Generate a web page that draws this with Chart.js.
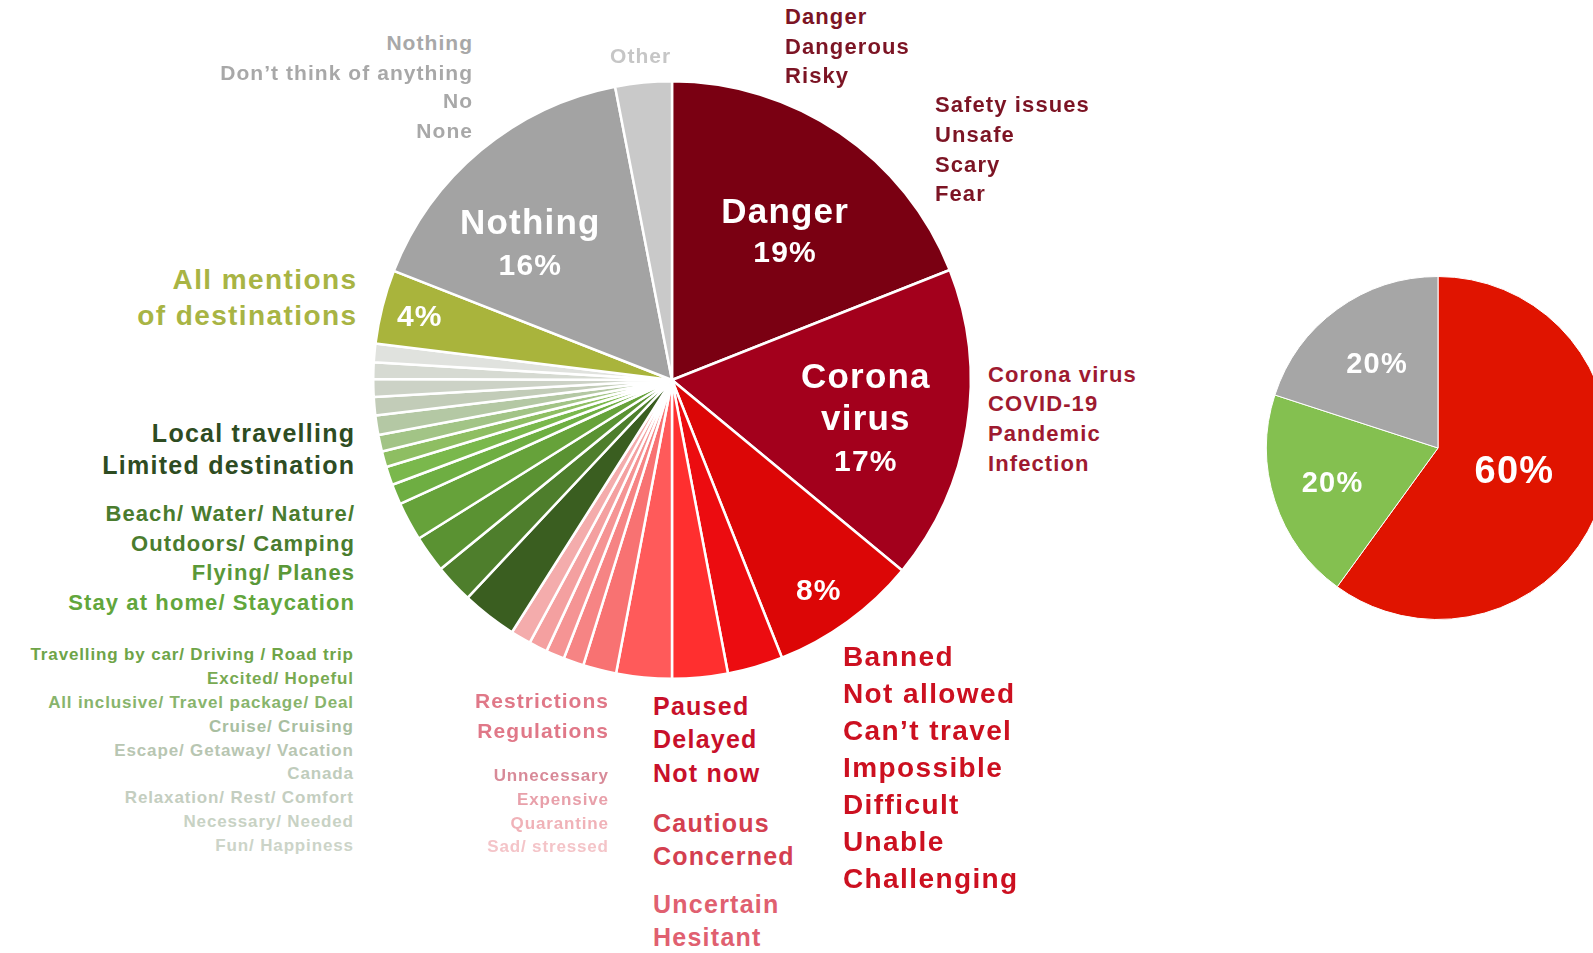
<!DOCTYPE html>
<html>
<head>
<meta charset="utf-8">
<script src="https://cdn.jsdelivr.net/npm/chart.js@4"></script>
<style>
  html, body { margin: 0; padding: 0; background: #fff; }
  body { width: 1593px; height: 953px; overflow: hidden; position: relative;
         font-family: "Liberation Sans", Arial, Helvetica, sans-serif; }
  .box { position: absolute; }
  .lbl { position: absolute; white-space: nowrap; font-weight: bold; letter-spacing: 0.05em; }
</style>
</head>
<body>
<div class="box" style="left:362px;top:70px;width:620px;height:620px"><canvas id="main"></canvas></div>
<div class="box" style="left:1266px;top:276px;width:344px;height:344px"><canvas id="side"></canvas></div>
<script>
// main pie, clockwise from 12 o'clock (percent of mentions)
const categories = [
  'Danger', 'Corona virus', 'Banned / Not allowed', 'Paused / Delayed', 'Cautious / Concerned',
  'Uncertain / Hesitant', 'Restrictions / Regulations', 'Unnecessary', 'Expensive', 'Quarantine',
  'Sad/ stressed', 'Local travelling', 'Beach/ Water/ Nature', 'Flying/ Planes', 'Stay at home',
  'Travelling by car', 'Excited/ Hopeful', 'All inclusive', 'Cruise', 'Escape/ Getaway',
  'Canada', 'Relaxation', 'Necessary/ Needed', 'Fun/ Happiness', 'All mentions of destinations',
  'Nothing', 'Other'
];
const shares = [
  19, 17, 8, 3, 3,
  3, 1.8, 1.1, 1, 1,
  1.1, 3, 2.1, 2, 2.1,
  1.1, 1, 0.85, 0.9, 1.05,
  1, 0.95, 0.9, 1, 4,
  16, 3.05
];
const sliceColors = [
  '#7a0012', '#a3001c', '#dc0606', '#ec0c10', '#ff2f2f',
  '#ff5a5a', '#f87272', '#f68484', '#f59494', '#f4a0a0',
  '#f4acac', '#3a5e20', '#4e7e2c', '#5a9232', '#66a23a',
  '#6eae42', '#7ab84c', '#8ebe62', '#a2c486', '#b4c8a4',
  '#c2ccb8', '#ccd2c6', '#d6dad2', '#e0e2de', '#a9b43c',
  '#a3a3a3', '#c9c9c9'
];

// small pie on the right
const sideCategories = ['Negative', 'Positive', 'Neutral'];
const sideShares = [60, 20, 20];
const sideColors = ['#e01400', '#84c050', '#a6a6a6'];

// white text inside slices: index, radius fraction, angle nudge (deg), lines
const mainInside = [
  { index: 0, at: 0.623, turn: 3, lines: [{ t: 'Danger', size: 35, dy: -9 }, { t: '19%', size: 30, dy: 30 }] },
  { index: 1, at: 0.657, turn: 1, lines: [{ t: 'Corona', size: 35, dy: -26 }, { t: 'virus', size: 35, dy: 16 }, { t: '17%', size: 30, dy: 57 }] },
  { index: 2, at: 0.853, turn: 1, lines: [{ t: '8%', size: 30, dy: 11 }] },
  { index: 24, at: 0.873, turn: 0, lines: [{ t: '4%', size: 30, dy: 10 }] },
  { index: 25, at: 0.643, turn: -8, lines: [{ t: 'Nothing', size: 35, dy: -17 }, { t: '16%', size: 30, dy: 24 }] }
];
const sideInside = [
  { index: 0, at: 0.46, turn: -2, lines: [{ t: '60%', size: 38, dy: 13 }] },
  { index: 1, at: 0.65, turn: 0, lines: [{ t: '20%', size: 29, dy: 10 }] },
  { index: 2, at: 0.61, turn: 0, lines: [{ t: '20%', size: 29, dy: 10 }] }
];

const sliceText = {
  id: 'sliceText',
  afterDatasetsDraw(chart, args, opts) {
    const ctx = chart.ctx;
    const arcs = chart.getDatasetMeta(0).data;
    ctx.save();
    ctx.fillStyle = '#ffffff';
    ctx.textAlign = 'center';
    ctx.textBaseline = 'alphabetic';
    opts.items.forEach(it => {
      const a = arcs[it.index];
      const mid = (a.startAngle + a.endAngle) / 2 + it.turn * Math.PI / 180;
      const r = a.outerRadius * it.at;
      const cx = a.x + Math.cos(mid) * r;
      const cy = a.y + Math.sin(mid) * r;
      it.lines.forEach(ln => {
        ctx.font = 'bold ' + ln.size + 'px "Liberation Sans", Arial, sans-serif';
        ctx.letterSpacing = '1.2px';
        ctx.fillText(ln.t, cx + 0.6, cy + ln.dy);
      });
    });
    ctx.restore();
  }
};

new Chart(document.getElementById('main'), {
  type: 'pie',
  data: {
    labels: categories,
    datasets: [{ data: shares, backgroundColor: sliceColors, borderColor: '#ffffff', borderWidth: 2.5 }]
  },
  options: {
    responsive: true,
    maintainAspectRatio: false,
    animation: false,
    layout: { padding: 10 },
    plugins: { legend: { display: false }, tooltip: { enabled: false }, sliceText: { items: mainInside } }
  },
  plugins: [sliceText]
});

new Chart(document.getElementById('side'), {
  type: 'pie',
  data: {
    labels: sideCategories,
    datasets: [{ data: sideShares, backgroundColor: sideColors, borderColor: '#ffffff', borderWidth: 1 }]
  },
  options: {
    responsive: true,
    maintainAspectRatio: false,
    animation: false,
    layout: { padding: 0 },
    plugins: { legend: { display: false }, tooltip: { enabled: false }, sliceText: { items: sideInside } }
  },
  plugins: [sliceText]
});

// word lists around the pie
const groups = [
  { x: 785, size: 22, color: '#7c1424', base: [25, 55, 84], lines: ['Danger', 'Dangerous', 'Risky'] },
  { x: 935, size: 22, color: '#7c1424', base: [113, 143, 173, 202], lines: ['Safety issues', 'Unsafe', 'Scary', 'Fear'] },
  { x: 988, size: 22, color: '#9e1a30', base: [383, 412, 442, 472], lines: ['Corona virus', 'COVID-19', 'Pandemic', 'Infection'] },
  { x: 843, size: 28, color: '#cc1020', base: [667, 704, 741, 778, 815, 852, 889],
    lines: ['Banned', 'Not allowed', 'Can’t travel', 'Impossible', 'Difficult', 'Unable', 'Challenging'] },
  { x: 653, size: 25, color: '#c8102a', base: [715, 748, 782], lines: ['Paused', 'Delayed', 'Not now'] },
  { x: 653, size: 25, color: '#d44050', base: [832, 865], lines: ['Cautious', 'Concerned'] },
  { x: 653, size: 25, color: '#e06070', base: [913, 946], lines: ['Uncertain', 'Hesitant'] },
  { x: 608, align: 'right', size: 21, color: '#e07888', base: [708, 738], lines: ['Restrictions', 'Regulations'] },
  { x: 608, align: 'right', size: 17, base: [781, 805, 829, 852],
    lines: [{ t: 'Unnecessary', c: '#d88a98' }, { t: 'Expensive', c: '#e8a0aa' }, { t: 'Quarantine', c: '#f0b2b8' }, { t: 'Sad/ stressed', c: '#f4c4c8' }] },
  { x: 472, align: 'right', size: 21, color: '#a8a8a8', base: [50, 80, 108, 138], lines: ['Nothing', 'Don’t think of anything', 'No', 'None'] },
  { x: 610, size: 21, color: '#c6c6c6', base: [63], lines: ['Other'] },
  { x: 356, align: 'right', size: 28, color: '#a8b444', base: [290, 326], lines: ['All mentions', 'of destinations'] },
  { x: 354, align: 'right', size: 25, color: '#2e4c22', base: [442, 474], lines: ['Local travelling', 'Limited destination'] },
  { x: 354, align: 'right', size: 22, color: '#4a7c2e', base: [522, 552], lines: ['Beach/ Water/ Nature/', 'Outdoors/ Camping'] },
  { x: 354, align: 'right', size: 22, color: '#5a9838', base: [581], lines: ['Flying/ Planes'] },
  { x: 354, align: 'right', size: 22, color: '#62a63c', base: [611], lines: ['Stay at home/ Staycation'] },
  { x: 353, align: 'right', size: 17, base: [660, 684, 708, 732, 756, 779, 803, 827, 851],
    lines: [
      { t: 'Travelling by car/ Driving / Road trip', c: '#6ea448' },
      { t: 'Excited/ Hopeful', c: '#78aa52' },
      { t: 'All inclusive/ Travel package/ Deal', c: '#88b46c' },
      { t: 'Cruise/ Cruising', c: '#a8bea0' },
      { t: 'Escape/ Getaway/ Vacation', c: '#b8c6b2' },
      { t: 'Canada', c: '#c0ccbc' },
      { t: 'Relaxation/ Rest/ Comfort', c: '#c4cec0' },
      { t: 'Necessary/ Needed', c: '#c8d2c4' },
      { t: 'Fun/ Happiness', c: '#ccd4c8' }
    ] }
];

groups.forEach(g => {
  g.lines.forEach((ln, i) => {
    const d = document.createElement('div');
    d.className = 'lbl';
    d.textContent = typeof ln === 'string' ? ln : ln.t;
    d.style.color = (typeof ln === 'object' && ln.c) || g.color;
    d.style.fontSize = g.size + 'px';
    d.style.lineHeight = g.size + 'px';
    d.style.top = (g.base[i] - 0.8465 * g.size) + 'px';
    if (g.align === 'right') {
      d.style.right = (1593 - g.x) + 'px';
      d.style.marginRight = '-0.05em';
    } else {
      d.style.left = g.x + 'px';
    }
    document.body.appendChild(d);
  });
});
</script>
</body>
</html>
